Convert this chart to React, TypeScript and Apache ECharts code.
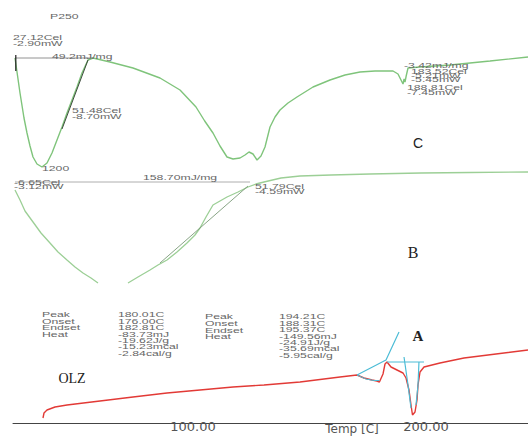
import React, { useEffect, useRef } from "react";
import * as echarts from "echarts";

// Temperature (°C) vs. stacked heat-flow signal (arbitrary offset units)
const C_CURVE: [number, number][] = [
  [23.56, 365], [25.71, 330], [27.42, 305], [28.71, 290], [30.0, 277], [31.29, 266],
  [33.0, 259], [35.15, 256], [37.3, 260], [39.44, 270], [41.59, 283], [43.74, 296],
  [45.88, 310], [48.03, 323], [50.18, 336], [52.32, 350], [54.9, 363], [57.05, 365],
  [64.34, 361], [74.22, 355], [85.81, 345], [94.4, 333], [101.27, 316], [105.0, 302],
  [108.56, 290], [111.57, 277], [114.58, 266], [117.15, 264], [120.16, 265], [122.3, 268],
  [124.02, 271], [125.74, 269], [127.46, 263], [129.17, 267], [130.89, 276], [133.04, 296],
  [135.18, 306], [137.33, 313], [140.76, 320], [144.63, 326], [151.5, 336], [158.8, 343],
  [165.24, 348], [171.68, 351], [178.12, 352], [185.85, 352], [187.99, 349], [189.28, 343],
  [190.14, 339], [190.6, 344], [191.0, 341], [191.5, 347], [192.29, 355], [197.44, 356],
  [210.32, 358], [227.49, 362], [243.8, 366],
];

const B_LEFT: [number, number][] = [
  [23.56, 233], [25.71, 223], [27.85, 212], [31.29, 201], [34.72, 190], [38.58, 180],
  [42.02, 171], [45.88, 163], [49.32, 156], [52.75, 150], [56.19, 145], [59.19, 140],
];

const B_RIGHT: [number, number][] = [
  [72.07, 140], [76.36, 146], [81.52, 153], [84.95, 158], [88.81, 163], [93.11, 171],
  [97.4, 180], [100.83, 188], [102.98, 195], [105.56, 206], [108.56, 218], [111.57, 222],
  [114.58, 226], [119.3, 231], [123.59, 236], [127.02, 239], [130.46, 241], [137.76, 245],
  [145.92, 247], [159.22, 248], [175.97, 249], [197.86, 250], [218.9, 250.5], [243.8, 251],
];

const A_CURVE: [number, number][] = [
  [35.58, 5], [36.01, 10], [37.3, 13], [40.73, 16], [45.88, 18], [60.05, 22], [74.22, 26],
  [88.81, 30], [102.98, 33], [117.15, 36], [130.46, 38], [145.92, 41], [163.09, 46],
  [170.39, 48], [173.39, 45], [176.83, 43], [178.9, 42], [180.01, 41], [181.55, 49],
  [182.41, 59], [183.27, 61], [184.99, 56], [187.56, 53], [190.14, 50], [191.43, 45],
  [192.71, 33], [193.57, 18], [194.21, 8], [195.29, 11], [196.15, 23], [196.58, 38],
  [197.44, 51], [199.15, 56], [206.02, 60], [216.32, 65], [230.06, 69], [243.8, 73],
];

// construction lines (baselines / tangents)
const C_BASELINE: [number, number][] = [[23.56, 365], [57.05, 365]];
const C_TANGENT: [number, number][] = [[43.74, 294], [54.9, 363]];
const C_START: [number, number][] = [[23.9, 368], [23.9, 352]];
const B_BASELINE: [number, number][] = [[23.56, 241], [124.45, 241]];
const B_TANGENT: [number, number][] = [[85.81, 160], [123.59, 237]];
const A_ONSET: [number, number][] = [[170.39, 48], [182.84, 63], [188.42, 91]];
const A_DIP: [number, number][] = [[170.39, 48], [174.2, 44], [177.6, 42.5], [180.0, 42.5]];
const A_LEVEL: [number, number][] = [[183.27, 61], [199.15, 61]];
const A_PEAK_L: [number, number][] = [[190.57, 66], [192.29, 38], [193.57, 15]];
const A_PEAK_R: [number, number][] = [[196.99, 61], [196.58, 38], [195.72, 18]];

const X_LABELS = [100, 200];

const TABLE1_KEYS = ["Peak", "Onset", "Endset", "Heat"];
const TABLE1_VALS = ["180.01C", "176.00C", "182.81C", "-83.73mJ", "-19.62J/g", "-15.23mcal", "-2.84cal/g"];
const TABLE2_KEYS = ["Peak", "Onset", "Endset", "Heat"];
const TABLE2_VALS = ["194.21C", "188.31C", "195.37C", "-149.56mJ", "-24.91J/g", "-35.69mcal", "-5.95cal/g"];

const GREEN_C = "#7fc47b";
const GREEN_B = "#9ccf96";
const RED = "#e23a36";
const CYAN = "#4cbcd6";

const tiny = (x: number, y: number, text: string, fill = "#666") => ({
  type: "text",
  x,
  y,
  scaleX: 1.75,
  z: 10,
  style: {
    text,
    fontSize: 7,
    fontFamily: "Liberation Sans",
    fill,
    align: "left",
    verticalAlign: "middle",
  },
});

const big = (x: number, y: number, text: string, family: string, size: number, weight = "normal") => ({
  type: "text",
  x,
  y,
  z: 10,
  style: {
    text,
    fontSize: size,
    fontFamily: family,
    fontWeight: weight,
    fill: "#222",
    align: "center",
    verticalAlign: "middle",
  },
});

function line(data: [number, number][], color: string, width: number, z = 2) {
  return {
    type: "line",
    data,
    showSymbol: false,
    smooth: false,
    silent: true,
    z,
    lineStyle: { color, width },
  };
}

export default function App() {
  const ref = useRef<HTMLDivElement>(null);

  useEffect(() => {
    if (!ref.current) return;
    const chart = echarts.init(ref.current, undefined, { renderer: "svg" });

    const graphics: any[] = [];
    TABLE1_KEYS.forEach((t, i) => graphics.push(tiny(42, 315 + i * 6.4, t)));
    TABLE1_VALS.forEach((t, i) => graphics.push(tiny(118, 315 + i * 6.4, t)));
    TABLE2_KEYS.forEach((t, i) => graphics.push(tiny(205, 317 + i * 6.6, t)));
    TABLE2_VALS.forEach((t, i) => graphics.push(tiny(279, 317 + i * 6.4, t)));

    graphics.push(
      tiny(50, 17, "P250"),
      tiny(13, 38, "27.12Cel"),
      tiny(13, 44, "-2.90mW"),
      tiny(52, 57, "49.2mJ/mg"),
      tiny(72, 111, "51.48Cel"),
      tiny(72, 117, "-8.70mW"),
      tiny(42, 169, "1200"),
      tiny(404, 66, "-3.42mJ/mg"),
      tiny(411, 72, "183.52Cel"),
      tiny(411, 76, "-5.21mW"),
      tiny(411, 80, "-5.45mW"),
      tiny(407, 88, "188.81Cel"),
      tiny(407, 93, "-7.45mW"),
      tiny(14, 183, "-6.65Cel"),
      tiny(14, 187, "-3.12mW"),
      tiny(143, 178, "158.70mJ/mg"),
      tiny(255, 187, "51.79Cel"),
      tiny(255, 192, "-4.59mW"),
      big(418, 143, "C", "Liberation Sans", 14),
      big(413, 252, "B", "Liberation Serif", 16),
      big(418, 336, "A", "Liberation Serif", 15, "bold"),
      big(72, 378, "OLZ", "Liberation Serif", 14),
      {
        type: "text",
        x: 352,
        y: 423,
        z: 10,
        style: {
          text: "Temp [C]",
          fontSize: 12,
          fontFamily: "DejaVu Sans",
          fill: "#555",
          align: "center",
          verticalAlign: "top",
        },
      }
    );

    chart.setOption({
      animation: false,
      backgroundColor: "#ffffff",
      grid: { left: 13, right: 0, top: 0, bottom: 13, containLabel: false },
      xAxis: {
        type: "value",
        min: 22.7,
        max: 243.8,
        axisLine: { show: true, lineStyle: { color: "#444", width: 1 } },
        axisTick: { show: false },
        splitLine: { show: false },
        axisLabel: {
          customValues: X_LABELS,
          formatter: (v: number) => v.toFixed(2),
          fontSize: 13,
          fontFamily: "DejaVu Sans",
          color: "#555",
          margin: -3,
        },
      },
      yAxis: {
        type: "value",
        min: 0,
        max: 423,
        show: false,
        splitLine: { show: false },
      },
      series: [
        line(C_CURVE, GREEN_C, 1.4),
        line(C_BASELINE, "#777", 0.8, 3),
        line(C_TANGENT, "#3d4a3c", 1, 3),
        line(C_START, "#222", 1.2, 3),
        line(B_LEFT, GREEN_B, 1.3),
        line(B_RIGHT, GREEN_B, 1.3),
        line(B_BASELINE, "#999", 0.8, 3),
        line(B_TANGENT, "#7a9a78", 0.9, 3),
        line(A_CURVE, RED, 1.4, 3),
        line(A_ONSET, CYAN, 1.2, 4),
        line(A_DIP, CYAN, 1, 4),
        line(A_LEVEL, CYAN, 1, 4),
        line(A_PEAK_L, CYAN, 1.2, 4),
        line(A_PEAK_R, CYAN, 1.2, 4),
      ],
      graphic: graphics,
    });

    return () => chart.dispose();
  }, []);

  return (
    <div
      ref={ref}
      style={{ position: "fixed", left: 0, top: 0, width: 528, height: 436, background: "#fff" }}
    />
  );
}
